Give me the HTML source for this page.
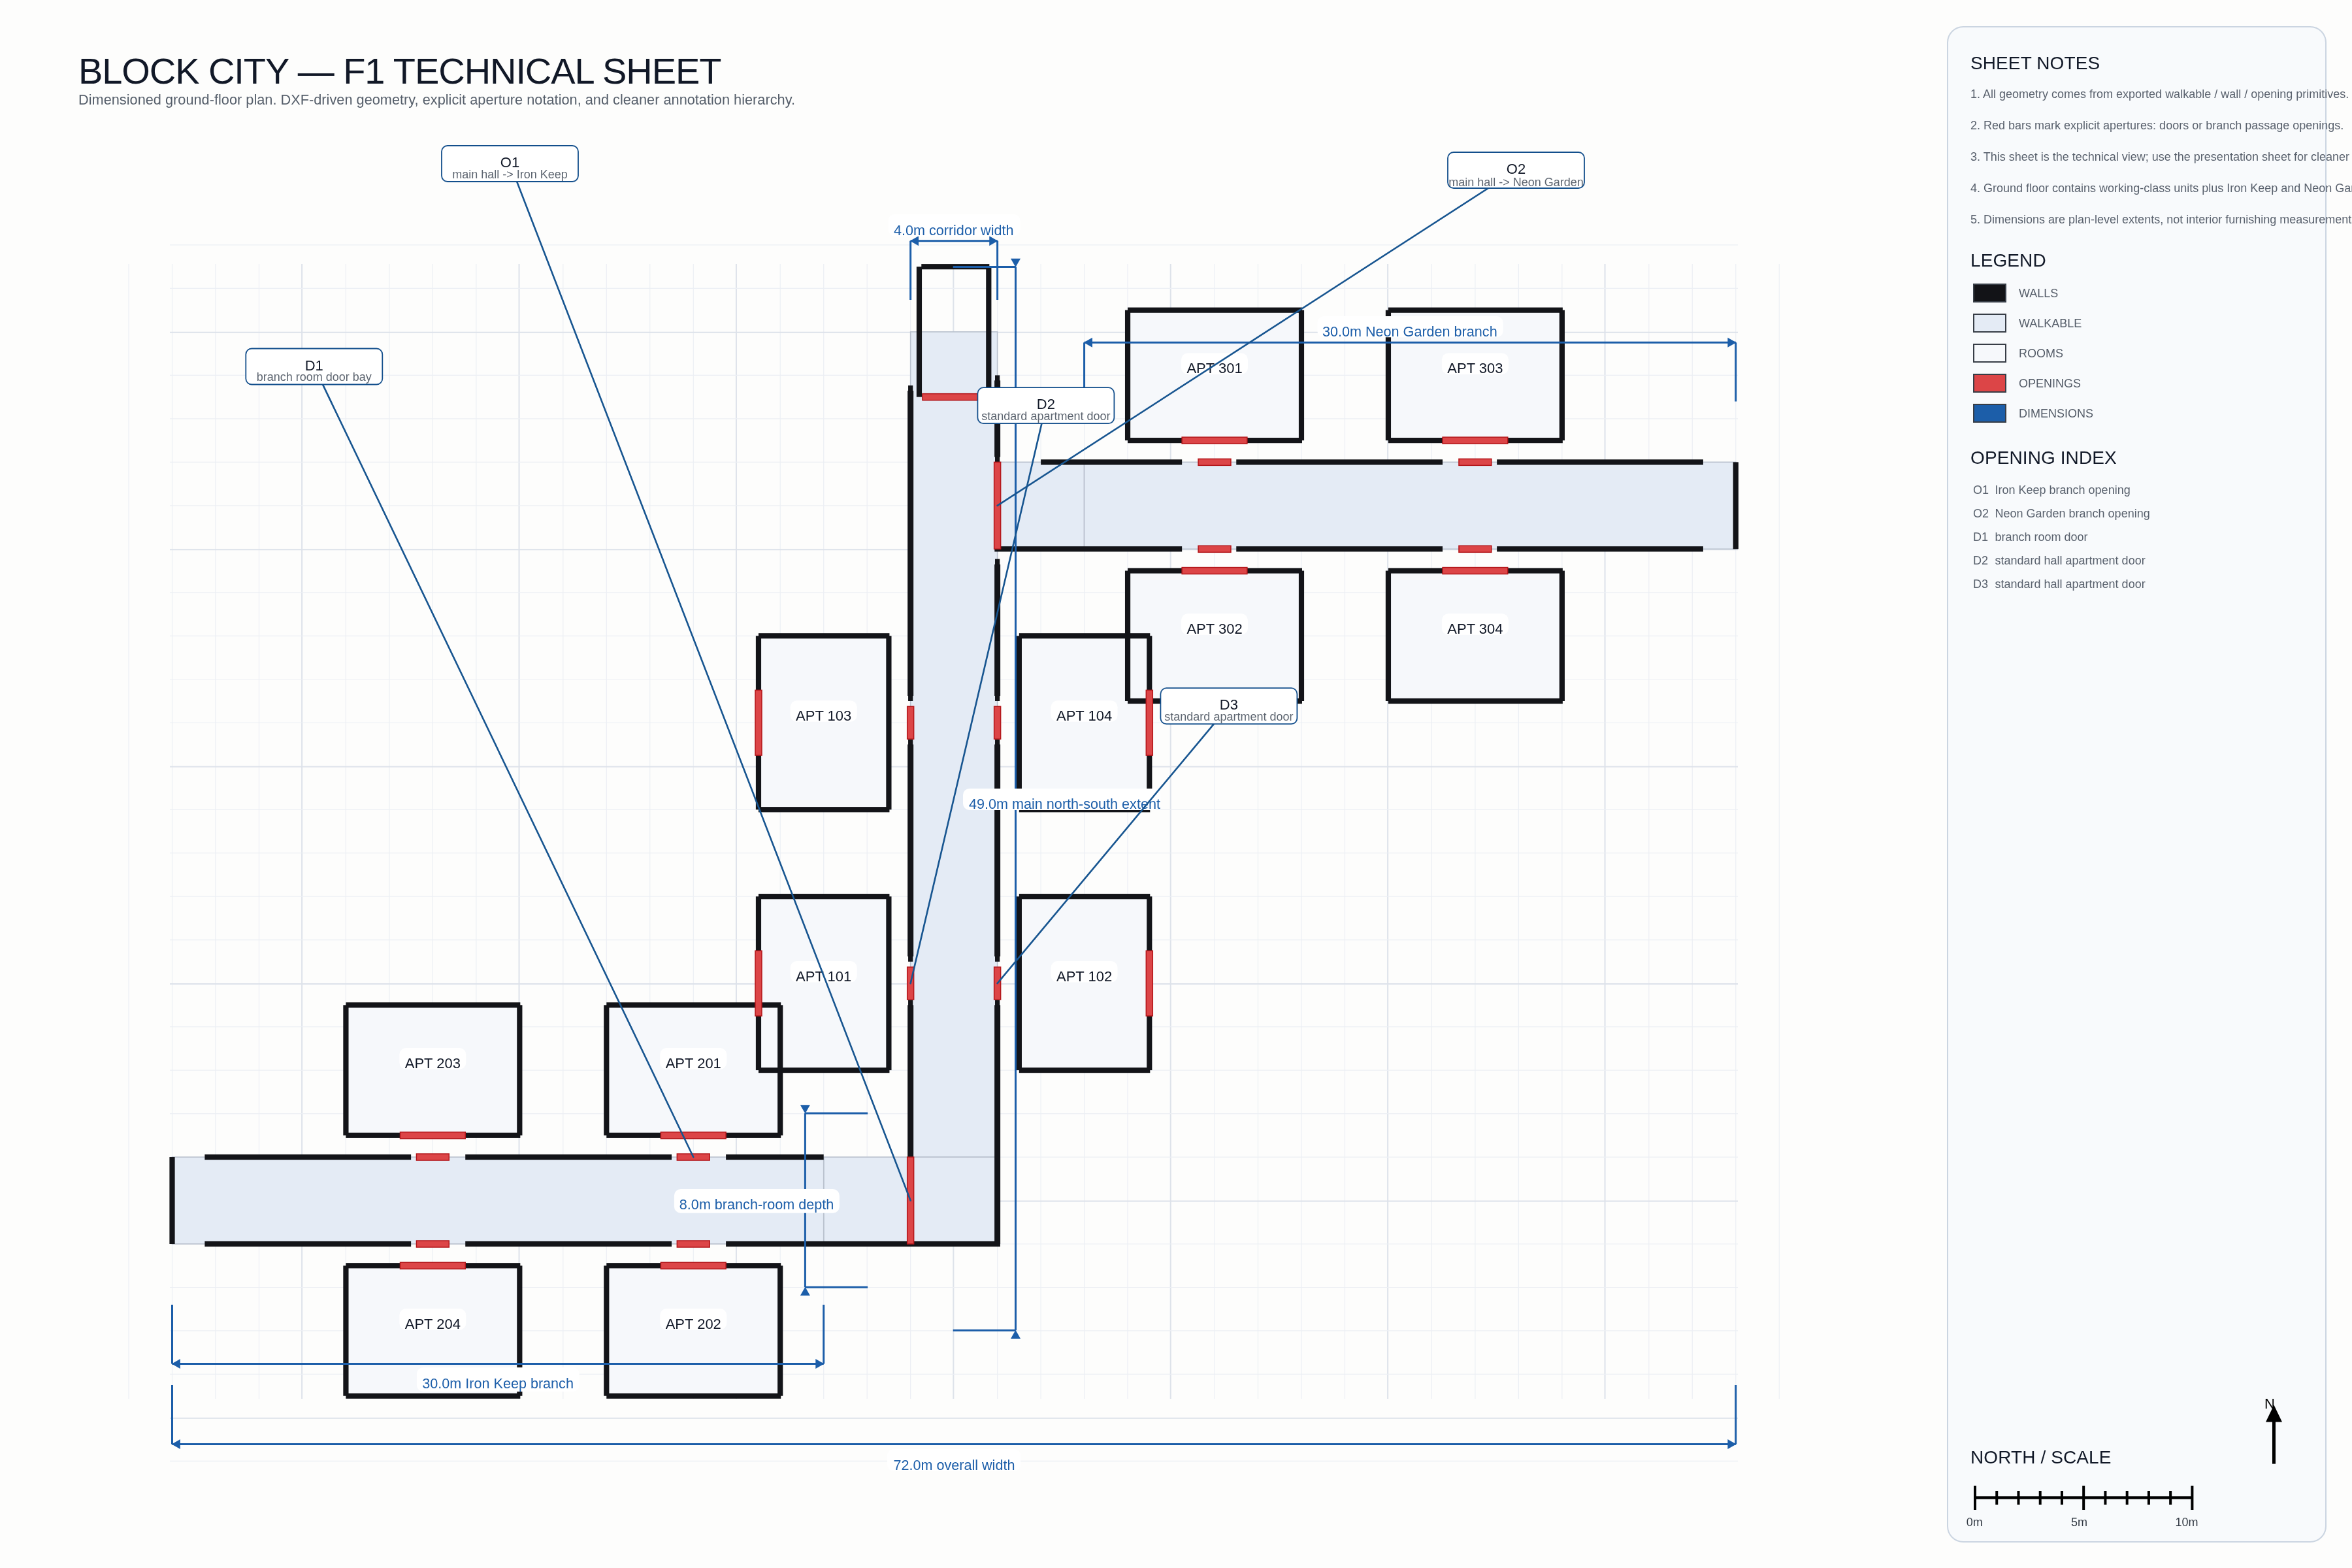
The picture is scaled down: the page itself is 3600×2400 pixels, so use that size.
<!DOCTYPE html><html><head><meta charset="utf-8"><title>BLOCK CITY F1 Technical Sheet</title>
<style>html,body{margin:0;padding:0;overflow:hidden;background:#fdfdfc}svg{display:block;width:100vw;height:100vh;will-change:transform}text{font-family:"Liberation Sans",sans-serif}</style></head><body>
<svg xmlns="http://www.w3.org/2000/svg" viewBox="0 0 3600 2400" preserveAspectRatio="xMidYMid meet">
<rect x="0" y="0" width="3600" height="2400" fill="#fdfdfc"/>
<text x="120" y="128" font-size="56" letter-spacing="-1.07" fill="#111827">BLOCK CITY — F1 TECHNICAL SHEET</text>
<text x="120" y="160" font-size="21.75" fill="#555e6a">Dimensioned ground-floor plan. DXF-driven geometry, explicit aperture notation, and cleaner annotation hierarchy.</text>
<g id="grid"><line x1="197.02" y1="404" x2="197.02" y2="2141" stroke="#eceff4" stroke-width="1.2"/><line x1="263.5" y1="404" x2="263.5" y2="2141" stroke="#eceff4" stroke-width="1.2"/><line x1="329.98" y1="404" x2="329.98" y2="2141" stroke="#eceff4" stroke-width="1.2"/><line x1="396.46" y1="404" x2="396.46" y2="2141" stroke="#eceff4" stroke-width="1.2"/><line x1="462.14" y1="404" x2="462.14" y2="2141" stroke="#dde2ea" stroke-width="2"/><line x1="529.42" y1="404" x2="529.42" y2="2141" stroke="#eceff4" stroke-width="1.2"/><line x1="595.9" y1="404" x2="595.9" y2="2141" stroke="#eceff4" stroke-width="1.2"/><line x1="662.38" y1="404" x2="662.38" y2="2141" stroke="#eceff4" stroke-width="1.2"/><line x1="728.86" y1="404" x2="728.86" y2="2141" stroke="#eceff4" stroke-width="1.2"/><line x1="794.54" y1="404" x2="794.54" y2="2141" stroke="#dde2ea" stroke-width="2"/><line x1="861.82" y1="404" x2="861.82" y2="2141" stroke="#eceff4" stroke-width="1.2"/><line x1="928.3" y1="404" x2="928.3" y2="2141" stroke="#eceff4" stroke-width="1.2"/><line x1="994.78" y1="404" x2="994.78" y2="2141" stroke="#eceff4" stroke-width="1.2"/><line x1="1061.26" y1="404" x2="1061.26" y2="2141" stroke="#eceff4" stroke-width="1.2"/><line x1="1126.94" y1="404" x2="1126.94" y2="2141" stroke="#dde2ea" stroke-width="2"/><line x1="1194.22" y1="404" x2="1194.22" y2="2141" stroke="#eceff4" stroke-width="1.2"/><line x1="1260.7" y1="404" x2="1260.7" y2="2141" stroke="#eceff4" stroke-width="1.2"/><line x1="1327.18" y1="404" x2="1327.18" y2="2141" stroke="#eceff4" stroke-width="1.2"/><line x1="1393.66" y1="404" x2="1393.66" y2="2141" stroke="#eceff4" stroke-width="1.2"/><line x1="1459.34" y1="404" x2="1459.34" y2="2141" stroke="#dde2ea" stroke-width="2"/><line x1="1526.62" y1="404" x2="1526.62" y2="2141" stroke="#eceff4" stroke-width="1.2"/><line x1="1593.1" y1="404" x2="1593.1" y2="2141" stroke="#eceff4" stroke-width="1.2"/><line x1="1659.58" y1="404" x2="1659.58" y2="2141" stroke="#eceff4" stroke-width="1.2"/><line x1="1726.06" y1="404" x2="1726.06" y2="2141" stroke="#eceff4" stroke-width="1.2"/><line x1="1791.74" y1="404" x2="1791.74" y2="2141" stroke="#dde2ea" stroke-width="2"/><line x1="1859.02" y1="404" x2="1859.02" y2="2141" stroke="#eceff4" stroke-width="1.2"/><line x1="1925.5" y1="404" x2="1925.5" y2="2141" stroke="#eceff4" stroke-width="1.2"/><line x1="1991.98" y1="404" x2="1991.98" y2="2141" stroke="#eceff4" stroke-width="1.2"/><line x1="2058.46" y1="404" x2="2058.46" y2="2141" stroke="#eceff4" stroke-width="1.2"/><line x1="2124.14" y1="404" x2="2124.14" y2="2141" stroke="#dde2ea" stroke-width="2"/><line x1="2191.42" y1="404" x2="2191.42" y2="2141" stroke="#eceff4" stroke-width="1.2"/><line x1="2257.9" y1="404" x2="2257.9" y2="2141" stroke="#eceff4" stroke-width="1.2"/><line x1="2324.38" y1="404" x2="2324.38" y2="2141" stroke="#eceff4" stroke-width="1.2"/><line x1="2390.86" y1="404" x2="2390.86" y2="2141" stroke="#eceff4" stroke-width="1.2"/><line x1="2456.54" y1="404" x2="2456.54" y2="2141" stroke="#dde2ea" stroke-width="2"/><line x1="2523.82" y1="404" x2="2523.82" y2="2141" stroke="#eceff4" stroke-width="1.2"/><line x1="2590.3" y1="404" x2="2590.3" y2="2141" stroke="#eceff4" stroke-width="1.2"/><line x1="2656.78" y1="404" x2="2656.78" y2="2141" stroke="#eceff4" stroke-width="1.2"/><line x1="2723.26" y1="404" x2="2723.26" y2="2141" stroke="#eceff4" stroke-width="1.2"/><line x1="260" y1="374.96" x2="2660" y2="374.96" stroke="#eceff4" stroke-width="1.2"/><line x1="260" y1="441.44" x2="2660" y2="441.44" stroke="#eceff4" stroke-width="1.2"/><line x1="260" y1="508.82" x2="2660" y2="508.82" stroke="#dde2ea" stroke-width="2"/><line x1="260" y1="574.4" x2="2660" y2="574.4" stroke="#eceff4" stroke-width="1.2"/><line x1="260" y1="640.88" x2="2660" y2="640.88" stroke="#eceff4" stroke-width="1.2"/><line x1="260" y1="707.36" x2="2660" y2="707.36" stroke="#eceff4" stroke-width="1.2"/><line x1="260" y1="773.84" x2="2660" y2="773.84" stroke="#eceff4" stroke-width="1.2"/><line x1="260" y1="841.22" x2="2660" y2="841.22" stroke="#dde2ea" stroke-width="2"/><line x1="260" y1="906.8" x2="2660" y2="906.8" stroke="#eceff4" stroke-width="1.2"/><line x1="260" y1="973.28" x2="2660" y2="973.28" stroke="#eceff4" stroke-width="1.2"/><line x1="260" y1="1039.76" x2="2660" y2="1039.76" stroke="#eceff4" stroke-width="1.2"/><line x1="260" y1="1106.24" x2="2660" y2="1106.24" stroke="#eceff4" stroke-width="1.2"/><line x1="260" y1="1173.62" x2="2660" y2="1173.62" stroke="#dde2ea" stroke-width="2"/><line x1="260" y1="1239.2" x2="2660" y2="1239.2" stroke="#eceff4" stroke-width="1.2"/><line x1="260" y1="1305.68" x2="2660" y2="1305.68" stroke="#eceff4" stroke-width="1.2"/><line x1="260" y1="1372.16" x2="2660" y2="1372.16" stroke="#eceff4" stroke-width="1.2"/><line x1="260" y1="1438.64" x2="2660" y2="1438.64" stroke="#eceff4" stroke-width="1.2"/><line x1="260" y1="1506.02" x2="2660" y2="1506.02" stroke="#dde2ea" stroke-width="2"/><line x1="260" y1="1571.6" x2="2660" y2="1571.6" stroke="#eceff4" stroke-width="1.2"/><line x1="260" y1="1638.08" x2="2660" y2="1638.08" stroke="#eceff4" stroke-width="1.2"/><line x1="260" y1="1704.56" x2="2660" y2="1704.56" stroke="#eceff4" stroke-width="1.2"/><line x1="260" y1="1771.04" x2="2660" y2="1771.04" stroke="#eceff4" stroke-width="1.2"/><line x1="260" y1="1838.42" x2="2660" y2="1838.42" stroke="#dde2ea" stroke-width="2"/><line x1="260" y1="1904" x2="2660" y2="1904" stroke="#eceff4" stroke-width="1.2"/><line x1="260" y1="1970.48" x2="2660" y2="1970.48" stroke="#eceff4" stroke-width="1.2"/><line x1="260" y1="2036.96" x2="2660" y2="2036.96" stroke="#eceff4" stroke-width="1.2"/><line x1="260" y1="2103.44" x2="2660" y2="2103.44" stroke="#eceff4" stroke-width="1.2"/><line x1="260" y1="2170.82" x2="2660" y2="2170.82" stroke="#dde2ea" stroke-width="2"/><line x1="260" y1="2236.4" x2="2660" y2="2236.4" stroke="#eceff4" stroke-width="1.2"/></g>
<g id="walk"><rect x="1393.66" y="507.92" width="132.96" height="1263.12" fill="#e4ebf5" stroke="#b9c1ce" stroke-width="1.6"/><rect x="1260.7" y="1771.04" width="265.92" height="132.96" fill="#e4ebf5" stroke="#b9c1ce" stroke-width="1.6"/><rect x="263.5" y="1771.04" width="997.2" height="132.96" fill="#e4ebf5" stroke="#b9c1ce" stroke-width="1.6"/><rect x="1526.62" y="707.36" width="132.96" height="132.96" fill="#e4ebf5" stroke="#b9c1ce" stroke-width="1.6"/><rect x="1659.58" y="707.36" width="997.2" height="132.96" fill="#e4ebf5" stroke="#b9c1ce" stroke-width="1.6"/></g>
<g id="roomfill"><rect x="1160.98" y="1372.16" width="199.44" height="265.92" fill="#f6f8fb"/><rect x="1559.86" y="1372.16" width="199.44" height="265.92" fill="#f6f8fb"/><rect x="1160.98" y="973.28" width="199.44" height="265.92" fill="#f6f8fb"/><rect x="1559.86" y="973.28" width="199.44" height="265.92" fill="#f6f8fb"/><rect x="928.3" y="1538.36" width="265.92" height="199.44" fill="#f6f8fb"/><rect x="928.3" y="1937.24" width="265.92" height="199.44" fill="#f6f8fb"/><rect x="529.42" y="1538.36" width="265.92" height="199.44" fill="#f6f8fb"/><rect x="529.42" y="1937.24" width="265.92" height="199.44" fill="#f6f8fb"/><rect x="1726.06" y="474.68" width="265.92" height="199.44" fill="#f6f8fb"/><rect x="1726.06" y="873.56" width="265.92" height="199.44" fill="#f6f8fb"/><rect x="2124.94" y="474.68" width="265.92" height="199.44" fill="#f6f8fb"/><rect x="2124.94" y="873.56" width="265.92" height="199.44" fill="#f6f8fb"/></g>
<g id="walls"><rect x="1160.98" y="1368.06" width="200.44" height="8.2" fill="#131418"/><rect x="1160.98" y="1633.98" width="200.44" height="8.2" fill="#131418"/><rect x="1156.88" y="1372.16" width="8.2" height="265.92" fill="#131418"/><rect x="1356.32" y="1372.16" width="8.2" height="265.92" fill="#131418"/><rect x="1559.86" y="1368.06" width="200.44" height="8.2" fill="#131418"/><rect x="1559.86" y="1633.98" width="200.44" height="8.2" fill="#131418"/><rect x="1555.76" y="1372.16" width="8.2" height="265.92" fill="#131418"/><rect x="1755.2" y="1372.16" width="8.2" height="265.92" fill="#131418"/><rect x="1160.98" y="969.18" width="200.44" height="8.2" fill="#131418"/><rect x="1160.98" y="1235.1" width="200.44" height="8.2" fill="#131418"/><rect x="1156.88" y="973.28" width="8.2" height="265.92" fill="#131418"/><rect x="1356.32" y="973.28" width="8.2" height="265.92" fill="#131418"/><rect x="1559.86" y="969.18" width="200.44" height="8.2" fill="#131418"/><rect x="1559.86" y="1235.1" width="200.44" height="8.2" fill="#131418"/><rect x="1555.76" y="973.28" width="8.2" height="265.92" fill="#131418"/><rect x="1755.2" y="973.28" width="8.2" height="265.92" fill="#131418"/><rect x="928.3" y="1534.26" width="266.92" height="8.2" fill="#131418"/><rect x="928.3" y="1733.7" width="266.92" height="8.2" fill="#131418"/><rect x="924.2" y="1538.36" width="8.2" height="199.44" fill="#131418"/><rect x="1190.12" y="1538.36" width="8.2" height="199.44" fill="#131418"/><rect x="928.3" y="1933.14" width="266.92" height="8.2" fill="#131418"/><rect x="928.3" y="2132.58" width="266.92" height="8.2" fill="#131418"/><rect x="924.2" y="1937.24" width="8.2" height="199.44" fill="#131418"/><rect x="1190.12" y="1937.24" width="8.2" height="199.44" fill="#131418"/><rect x="529.42" y="1534.26" width="266.92" height="8.2" fill="#131418"/><rect x="529.42" y="1733.7" width="266.92" height="8.2" fill="#131418"/><rect x="525.32" y="1538.36" width="8.2" height="199.44" fill="#131418"/><rect x="791.24" y="1538.36" width="8.2" height="199.44" fill="#131418"/><rect x="529.42" y="1933.14" width="266.92" height="8.2" fill="#131418"/><rect x="529.42" y="2132.58" width="266.92" height="8.2" fill="#131418"/><rect x="525.32" y="1937.24" width="8.2" height="199.44" fill="#131418"/><rect x="791.24" y="1937.24" width="8.2" height="199.44" fill="#131418"/><rect x="1726.06" y="470.58" width="266.92" height="8.2" fill="#131418"/><rect x="1726.06" y="670.02" width="266.92" height="8.2" fill="#131418"/><rect x="1721.96" y="474.68" width="8.2" height="199.44" fill="#131418"/><rect x="1987.88" y="474.68" width="8.2" height="199.44" fill="#131418"/><rect x="1726.06" y="869.46" width="266.92" height="8.2" fill="#131418"/><rect x="1726.06" y="1068.9" width="266.92" height="8.2" fill="#131418"/><rect x="1721.96" y="873.56" width="8.2" height="199.44" fill="#131418"/><rect x="1987.88" y="873.56" width="8.2" height="199.44" fill="#131418"/><rect x="2124.94" y="470.58" width="266.92" height="8.2" fill="#131418"/><rect x="2124.94" y="670.02" width="266.92" height="8.2" fill="#131418"/><rect x="2120.84" y="474.68" width="8.2" height="199.44" fill="#131418"/><rect x="2386.76" y="474.68" width="8.2" height="199.44" fill="#131418"/><rect x="2124.94" y="869.46" width="266.92" height="8.2" fill="#131418"/><rect x="2124.94" y="1068.9" width="266.92" height="8.2" fill="#131418"/><rect x="2120.84" y="873.56" width="8.2" height="199.44" fill="#131418"/><rect x="2386.76" y="873.56" width="8.2" height="199.44" fill="#131418"/><rect x="1410.28" y="404.1" width="104.04" height="8.2" fill="#131418"/><rect x="1402.86" y="408.2" width="8.2" height="199.44" fill="#131418"/><rect x="1509.22" y="408.2" width="8.2" height="199.44" fill="#131418"/><rect x="1390.06" y="590.02" width="7.2" height="482.98" fill="#131418"/><rect x="1390.06" y="1131.83" width="7.2" height="340.05" fill="#131418"/><rect x="1390.06" y="1530.71" width="7.2" height="240.33" fill="#131418"/><rect x="1389.16" y="598" width="9" height="467.02" fill="#131418"/><rect x="1389.16" y="1139.48" width="9" height="324.42" fill="#131418"/><rect x="1389.16" y="1538.36" width="9" height="232.68" fill="#131418"/><rect x="1523.02" y="574.4" width="7.2" height="132.96" fill="#131418"/><rect x="1523.02" y="855.61" width="7.2" height="217.39" fill="#131418"/><rect x="1523.02" y="1131.83" width="7.2" height="340.05" fill="#131418"/><rect x="1523.02" y="1530.71" width="7.2" height="373.29" fill="#131418"/><rect x="1522.12" y="582.38" width="9" height="117" fill="#131418"/><rect x="1522.12" y="863.92" width="9" height="201.1" fill="#131418"/><rect x="1522.12" y="1139.48" width="9" height="324.42" fill="#131418"/><rect x="1522.12" y="1538.36" width="9" height="365.64" fill="#131418"/><rect x="313.36" y="1766.94" width="315.78" height="8.2" fill="#131418"/><rect x="712.24" y="1766.94" width="315.78" height="8.2" fill="#131418"/><rect x="1111.12" y="1766.94" width="149.58" height="8.2" fill="#131418"/><rect x="313.36" y="1899.9" width="315.78" height="8.2" fill="#131418"/><rect x="712.24" y="1899.9" width="315.78" height="8.2" fill="#131418"/><rect x="1111.12" y="1899.9" width="419.82" height="8.2" fill="#131418"/><rect x="259.4" y="1771.04" width="8.2" height="132.96" fill="#131418"/><rect x="1593.1" y="703.26" width="216.06" height="8.2" fill="#131418"/><rect x="1892.26" y="703.26" width="315.78" height="8.2" fill="#131418"/><rect x="2291.14" y="703.26" width="315.78" height="8.2" fill="#131418"/><rect x="1522.3" y="836.22" width="286.86" height="8.2" fill="#131418"/><rect x="1892.26" y="836.22" width="315.78" height="8.2" fill="#131418"/><rect x="2291.14" y="836.22" width="315.78" height="8.2" fill="#131418"/><rect x="2652.68" y="707.36" width="8.2" height="132.96" fill="#131418"/></g>
<g id="openings"><rect x="1155.98" y="1455.26" width="10" height="99.72" fill="#dc4547" stroke="#b3161a" stroke-width="1.5"/><rect x="1754.3" y="1455.26" width="10" height="99.72" fill="#dc4547" stroke="#b3161a" stroke-width="1.5"/><rect x="1155.98" y="1056.38" width="10" height="99.72" fill="#dc4547" stroke="#b3161a" stroke-width="1.5"/><rect x="1754.3" y="1056.38" width="10" height="99.72" fill="#dc4547" stroke="#b3161a" stroke-width="1.5"/><rect x="1011.4" y="1732.8" width="99.72" height="10" fill="#dc4547" stroke="#b3161a" stroke-width="1.5"/><rect x="1011.4" y="1932.24" width="99.72" height="10" fill="#dc4547" stroke="#b3161a" stroke-width="1.5"/><rect x="612.52" y="1732.8" width="99.72" height="10" fill="#dc4547" stroke="#b3161a" stroke-width="1.5"/><rect x="612.52" y="1932.24" width="99.72" height="10" fill="#dc4547" stroke="#b3161a" stroke-width="1.5"/><rect x="1809.16" y="669.12" width="99.72" height="10" fill="#dc4547" stroke="#b3161a" stroke-width="1.5"/><rect x="1809.16" y="868.56" width="99.72" height="10" fill="#dc4547" stroke="#b3161a" stroke-width="1.5"/><rect x="2208.04" y="669.12" width="99.72" height="10" fill="#dc4547" stroke="#b3161a" stroke-width="1.5"/><rect x="2208.04" y="868.56" width="99.72" height="10" fill="#dc4547" stroke="#b3161a" stroke-width="1.5"/><rect x="637.45" y="1766.04" width="49.86" height="10" fill="#dc4547" stroke="#b3161a" stroke-width="1.5"/><rect x="637.45" y="1899" width="49.86" height="10" fill="#dc4547" stroke="#b3161a" stroke-width="1.5"/><rect x="1036.33" y="1766.04" width="49.86" height="10" fill="#dc4547" stroke="#b3161a" stroke-width="1.5"/><rect x="1036.33" y="1899" width="49.86" height="10" fill="#dc4547" stroke="#b3161a" stroke-width="1.5"/><rect x="1834.09" y="702.36" width="49.86" height="10" fill="#dc4547" stroke="#b3161a" stroke-width="1.5"/><rect x="1834.09" y="835.32" width="49.86" height="10" fill="#dc4547" stroke="#b3161a" stroke-width="1.5"/><rect x="2232.97" y="702.36" width="49.86" height="10" fill="#dc4547" stroke="#b3161a" stroke-width="1.5"/><rect x="2232.97" y="835.32" width="49.86" height="10" fill="#dc4547" stroke="#b3161a" stroke-width="1.5"/><rect x="1388.66" y="1081.31" width="10" height="49.86" fill="#dc4547" stroke="#b3161a" stroke-width="1.5"/><rect x="1521.62" y="1081.31" width="10" height="49.86" fill="#dc4547" stroke="#b3161a" stroke-width="1.5"/><rect x="1388.66" y="1480.19" width="10" height="49.86" fill="#dc4547" stroke="#b3161a" stroke-width="1.5"/><rect x="1521.62" y="1480.19" width="10" height="49.86" fill="#dc4547" stroke="#b3161a" stroke-width="1.5"/><rect x="1388.66" y="1771.04" width="10" height="132.96" fill="#dc4547" stroke="#b3161a" stroke-width="1.5"/><rect x="1521.62" y="707.36" width="10" height="132.96" fill="#dc4547" stroke="#b3161a" stroke-width="1.5"/><rect x="1411.94" y="602.64" width="96.4" height="10" fill="#dc4547" stroke="#b3161a" stroke-width="1.5"/></g>
<g id="roomlabels"><rect x="1209.7" y="1471.12" width="102" height="32.5" rx="10" fill="#ffffff"/><text x="1260.7" y="1502.12" font-size="22" text-anchor="middle" fill="#111827">APT 101</text><rect x="1608.58" y="1471.12" width="102" height="32.5" rx="10" fill="#ffffff"/><text x="1659.58" y="1502.12" font-size="22" text-anchor="middle" fill="#111827">APT 102</text><rect x="1209.7" y="1072.24" width="102" height="32.5" rx="10" fill="#ffffff"/><text x="1260.7" y="1103.24" font-size="22" text-anchor="middle" fill="#111827">APT 103</text><rect x="1608.58" y="1072.24" width="102" height="32.5" rx="10" fill="#ffffff"/><text x="1659.58" y="1103.24" font-size="22" text-anchor="middle" fill="#111827">APT 104</text><rect x="1010.26" y="1604.08" width="102" height="32.5" rx="10" fill="#ffffff"/><text x="1061.26" y="1635.08" font-size="22" text-anchor="middle" fill="#111827">APT 201</text><rect x="1010.26" y="2002.96" width="102" height="32.5" rx="10" fill="#ffffff"/><text x="1061.26" y="2033.96" font-size="22" text-anchor="middle" fill="#111827">APT 202</text><rect x="611.38" y="1604.08" width="102" height="32.5" rx="10" fill="#ffffff"/><text x="662.38" y="1635.08" font-size="22" text-anchor="middle" fill="#111827">APT 203</text><rect x="611.38" y="2002.96" width="102" height="32.5" rx="10" fill="#ffffff"/><text x="662.38" y="2033.96" font-size="22" text-anchor="middle" fill="#111827">APT 204</text><rect x="1808.02" y="540.4" width="102" height="32.5" rx="10" fill="#ffffff"/><text x="1859.02" y="571.4" font-size="22" text-anchor="middle" fill="#111827">APT 301</text><rect x="1808.02" y="939.28" width="102" height="32.5" rx="10" fill="#ffffff"/><text x="1859.02" y="970.28" font-size="22" text-anchor="middle" fill="#111827">APT 302</text><rect x="2206.9" y="540.4" width="102" height="32.5" rx="10" fill="#ffffff"/><text x="2257.9" y="571.4" font-size="22" text-anchor="middle" fill="#111827">APT 303</text><rect x="2206.9" y="939.28" width="102" height="32.5" rx="10" fill="#ffffff"/><text x="2257.9" y="970.28" font-size="22" text-anchor="middle" fill="#111827">APT 304</text></g>
<g id="dims"><line x1="1393.66" y1="368.7" x2="1393.66" y2="459" stroke="#1c5ea9" stroke-width="3"/><line x1="1526.62" y1="368.7" x2="1526.62" y2="459" stroke="#1c5ea9" stroke-width="3"/><line x1="1393.66" y1="368.7" x2="1526.62" y2="368.7" stroke="#1c5ea9" stroke-width="3"/><polygon points="1392.86,368.7 1406.06,361.2 1406.06,376.2" fill="#1c5ea9"/><polygon points="1527.42,368.7 1514.22,361.2 1514.22,376.2" fill="#1c5ea9"/><rect x="1359.4" y="327.9" width="202" height="33.6" rx="10" fill="#ffffff"/><text x="1459.7" y="360" font-size="21.6" text-anchor="middle" fill="#1c5ea9">4.0m corridor width</text><line x1="1659.58" y1="524.3" x2="1659.58" y2="614.5" stroke="#1c5ea9" stroke-width="3"/><line x1="2656.78" y1="524.3" x2="2656.78" y2="614.5" stroke="#1c5ea9" stroke-width="3"/><line x1="1659.58" y1="524.3" x2="2656.78" y2="524.3" stroke="#1c5ea9" stroke-width="3"/><polygon points="1658.78,524.3 1671.98,516.8 1671.98,531.8" fill="#1c5ea9"/><polygon points="2657.58,524.3 2644.38,516.8 2644.38,531.8" fill="#1c5ea9"/><rect x="2016.4" y="484" width="284.3" height="32.3" rx="10" fill="#ffffff"/><text x="2157.8" y="515.2" font-size="21.6" text-anchor="middle" fill="#1c5ea9">30.0m Neon Garden branch</text><line x1="263.5" y1="2087.4" x2="263.5" y2="1997" stroke="#1c5ea9" stroke-width="3"/><line x1="1260.7" y1="2087.4" x2="1260.7" y2="1997" stroke="#1c5ea9" stroke-width="3"/><line x1="263.5" y1="2087.4" x2="1260.7" y2="2087.4" stroke="#1c5ea9" stroke-width="3"/><polygon points="262.7,2087.4 275.9,2079.9 275.9,2094.9" fill="#1c5ea9"/><polygon points="1261.5,2087.4 1248.3,2079.9 1248.3,2094.9" fill="#1c5ea9"/><rect x="637.9" y="2092.9" width="248.8" height="37.1" rx="10" fill="#ffffff"/><text x="762.1" y="2125" font-size="21.6" text-anchor="middle" fill="#1c5ea9">30.0m Iron Keep branch</text><line x1="263.5" y1="2210.5" x2="263.5" y2="2120" stroke="#1c5ea9" stroke-width="3"/><line x1="2656.78" y1="2210.5" x2="2656.78" y2="2120" stroke="#1c5ea9" stroke-width="3"/><line x1="263.5" y1="2210.5" x2="2656.78" y2="2210.5" stroke="#1c5ea9" stroke-width="3"/><polygon points="262.7,2210.5 275.9,2203 275.9,2218" fill="#1c5ea9"/><polygon points="2657.58,2210.5 2644.38,2203 2644.38,2218" fill="#1c5ea9"/><rect x="1358" y="2217.9" width="204.1" height="33.5" rx="10" fill="#ffffff"/><text x="1460.4" y="2249.9" font-size="21.6" text-anchor="middle" fill="#1c5ea9">72.0m overall width</text><line x1="1458.7" y1="408.5" x2="1554.5" y2="408.5" stroke="#1c5ea9" stroke-width="3"/><line x1="1458.7" y1="2036.3" x2="1554.5" y2="2036.3" stroke="#1c5ea9" stroke-width="3"/><line x1="1554.5" y1="408.5" x2="1554.5" y2="2036.3" stroke="#1c5ea9" stroke-width="3"/><polygon points="1554.5,409 1547,395.8 1562,395.8" fill="#1c5ea9"/><polygon points="1554.5,2035.8 1547,2049 1562,2049" fill="#1c5ea9"/><rect x="1474" y="1206.9" width="302.6" height="33" rx="10" fill="#ffffff"/><text x="1629.5" y="1238.4" font-size="21.6" text-anchor="middle" fill="#1c5ea9">49.0m main north-south extent</text><line x1="1328.1" y1="1704" x2="1232.4" y2="1704" stroke="#1c5ea9" stroke-width="3"/><line x1="1328.1" y1="1970.2" x2="1232.4" y2="1970.2" stroke="#1c5ea9" stroke-width="3"/><line x1="1232.4" y1="1704" x2="1232.4" y2="1970.2" stroke="#1c5ea9" stroke-width="3"/><polygon points="1232.4,1704.5 1224.9,1691.3 1239.9,1691.3" fill="#1c5ea9"/><polygon points="1232.4,1969.7 1224.9,1982.9 1239.9,1982.9" fill="#1c5ea9"/><rect x="1031.9" y="1820.1" width="253" height="36.7" rx="10" fill="#ffffff"/><text x="1158.1" y="1851.1" font-size="21.6" text-anchor="middle" fill="#1c5ea9">8.0m branch-room depth</text></g>
<g id="callouts"><line x1="780.5" y1="250.5" x2="1393.66" y2="1837.52" stroke="#175590" stroke-width="2.6" stroke-linecap="round"/><line x1="2320.5" y1="260.5" x2="1526.62" y2="773.84" stroke="#175590" stroke-width="2.6" stroke-linecap="round"/><line x1="480.8" y1="561" x2="1061.26" y2="1771.04" stroke="#175590" stroke-width="2.6" stroke-linecap="round"/><line x1="1600.9" y1="620.7" x2="1393.66" y2="1505.12" stroke="#175590" stroke-width="2.6" stroke-linecap="round"/><line x1="1880.9" y1="1080.7" x2="1526.62" y2="1505.12" stroke="#175590" stroke-width="2.6" stroke-linecap="round"/><rect x="676" y="223" width="209" height="55" rx="9" fill="#ffffff" stroke="#134f8c" stroke-width="1.8"/><text x="780.5" y="256" font-size="22" text-anchor="middle" fill="#111827">O1</text><text x="780.5" y="272.6" font-size="18" text-anchor="middle" fill="#5d6570">main hall -&gt; Iron Keep</text><rect x="2216" y="233" width="209" height="55" rx="9" fill="#ffffff" stroke="#134f8c" stroke-width="1.8"/><text x="2320.5" y="266" font-size="22" text-anchor="middle" fill="#111827">O2</text><text x="2320.5" y="284.7" font-size="18" text-anchor="middle" fill="#5d6570">main hall -&gt; Neon Garden</text><rect x="376.3" y="533.5" width="209" height="55" rx="9" fill="#ffffff" stroke="#134f8c" stroke-width="1.8"/><text x="480.8" y="566.5" font-size="22" text-anchor="middle" fill="#111827">D1</text><text x="480.8" y="583.1" font-size="18" text-anchor="middle" fill="#5d6570">branch room door bay</text><rect x="1496.4" y="593.2" width="209" height="55" rx="9" fill="#ffffff" stroke="#134f8c" stroke-width="1.8"/><text x="1600.9" y="626.2" font-size="22" text-anchor="middle" fill="#111827">D2</text><text x="1600.9" y="642.8" font-size="18" text-anchor="middle" fill="#5d6570">standard apartment door</text><rect x="1776.4" y="1053.2" width="209" height="55" rx="9" fill="#ffffff" stroke="#134f8c" stroke-width="1.8"/><text x="1880.9" y="1086.2" font-size="22" text-anchor="middle" fill="#111827">D3</text><text x="1880.9" y="1102.8" font-size="18" text-anchor="middle" fill="#5d6570">standard apartment door</text></g>
<g id="panel"><rect x="2981" y="41" width="579" height="2319" rx="24" fill="#f8fafc" stroke="#cbd5e1" stroke-width="2"/><text x="3016" y="106" font-size="28" letter-spacing="0.1" fill="#111827">SHEET NOTES</text><text x="3016" y="150" font-size="18" fill="#59616d">1. All geometry comes from exported walkable / wall / opening primitives.</text><text x="3016" y="198" font-size="18" fill="#59616d">2. Red bars mark explicit apertures: doors or branch passage openings.</text><text x="3016" y="246" font-size="18" fill="#59616d">3. This sheet is the technical view; use the presentation sheet for cleaner reading.</text><text x="3016" y="294" font-size="18" fill="#59616d">4. Ground floor contains working-class units plus Iron Keep and Neon Garden branches.</text><text x="3016" y="342" font-size="18" fill="#59616d">5. Dimensions are plan-level extents, not interior furnishing measurements.</text><text x="3016" y="408" font-size="28" letter-spacing="0.1" fill="#111827">LEGEND</text><rect x="3021" y="435" width="49" height="27" fill="#121317" stroke="#373d46" stroke-width="2"/><text x="3090" y="455" font-size="18" fill="#545c68">WALLS</text><rect x="3021" y="481" width="49" height="27" fill="#e4ebf5" stroke="#373d46" stroke-width="2"/><text x="3090" y="501" font-size="18" fill="#545c68">WALKABLE</text><rect x="3021" y="527" width="49" height="27" fill="#f6f8fb" stroke="#373d46" stroke-width="2"/><text x="3090" y="547" font-size="18" fill="#545c68">ROOMS</text><rect x="3021" y="573" width="49" height="27" fill="#dc4547" stroke="#373d46" stroke-width="2"/><text x="3090" y="593" font-size="18" fill="#545c68">OPENINGS</text><rect x="3021" y="619" width="49" height="27" fill="#1c5ea9" stroke="#373d46" stroke-width="2"/><text x="3090" y="639" font-size="18" fill="#545c68">DIMENSIONS</text><text x="3016" y="710" font-size="28" letter-spacing="0.1" fill="#111827">OPENING INDEX</text><text x="3020" y="756" font-size="18" fill="#59616d">O1</text><text x="3053.5" y="756" font-size="18" fill="#59616d">Iron Keep branch opening</text><text x="3020" y="792" font-size="18" fill="#59616d">O2</text><text x="3053.5" y="792" font-size="18" fill="#59616d">Neon Garden branch opening</text><text x="3020" y="828" font-size="18" fill="#59616d">D1</text><text x="3053.5" y="828" font-size="18" fill="#59616d">branch room door</text><text x="3020" y="864" font-size="18" fill="#59616d">D2</text><text x="3053.5" y="864" font-size="18" fill="#59616d">standard hall apartment door</text><text x="3020" y="900" font-size="18" fill="#59616d">D3</text><text x="3053.5" y="900" font-size="18" fill="#59616d">standard hall apartment door</text><text x="3016" y="2240" font-size="28" letter-spacing="0.1" fill="#111827">NORTH / SCALE</text><line x1="3023" y1="2292.4" x2="3355.4" y2="2292.4" stroke="#000" stroke-width="4.4"/><line x1="3023" y1="2274" x2="3023" y2="2311" stroke="#000" stroke-width="4"/><line x1="3056.24" y1="2282" x2="3056.24" y2="2303" stroke="#000" stroke-width="4"/><line x1="3089.48" y1="2282" x2="3089.48" y2="2303" stroke="#000" stroke-width="4"/><line x1="3122.72" y1="2282" x2="3122.72" y2="2303" stroke="#000" stroke-width="4"/><line x1="3155.96" y1="2282" x2="3155.96" y2="2303" stroke="#000" stroke-width="4"/><line x1="3189.2" y1="2274" x2="3189.2" y2="2311" stroke="#000" stroke-width="4"/><line x1="3222.44" y1="2282" x2="3222.44" y2="2303" stroke="#000" stroke-width="4"/><line x1="3255.68" y1="2282" x2="3255.68" y2="2303" stroke="#000" stroke-width="4"/><line x1="3288.92" y1="2282" x2="3288.92" y2="2303" stroke="#000" stroke-width="4"/><line x1="3322.16" y1="2282" x2="3322.16" y2="2303" stroke="#000" stroke-width="4"/><line x1="3355.4" y1="2274" x2="3355.4" y2="2311" stroke="#000" stroke-width="4"/><text x="3022.3" y="2336" font-size="18" text-anchor="middle" fill="#333a44">0m</text><text x="3182.5" y="2336" font-size="18" text-anchor="middle" fill="#333a44">5m</text><text x="3347" y="2336" font-size="18" text-anchor="middle" fill="#333a44">10m</text><line x1="3480.5" y1="2176" x2="3480.5" y2="2240.6" stroke="#000" stroke-width="5"/><polygon points="3480.5,2150.5 3468,2176.5 3493,2176.5" fill="#000"/><text x="3474" y="2155.5" font-size="22" text-anchor="middle" fill="#000">N</text></g>
</svg></body></html>
